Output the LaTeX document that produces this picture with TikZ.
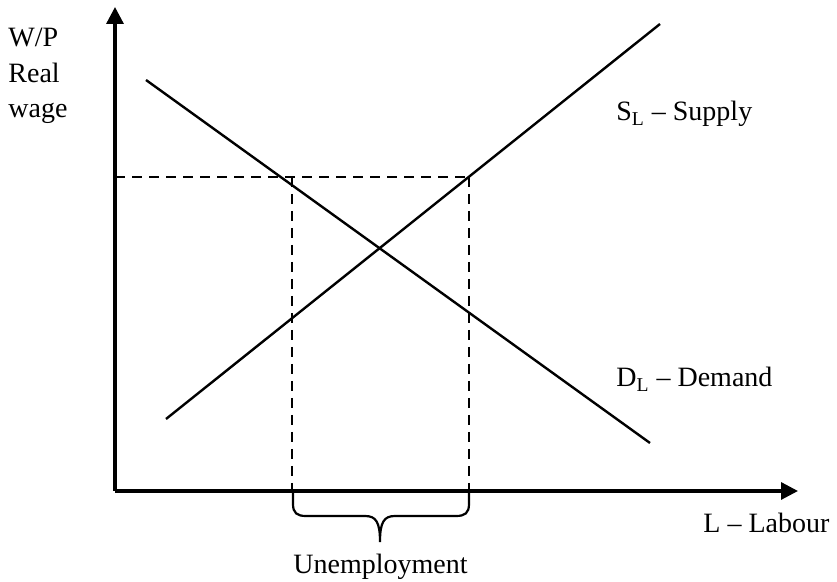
\documentclass[tikz,border=0pt]{standalone}
\usepackage{fontspec}
\setmainfont{Liberation Serif}
\usetikzlibrary{arrows.meta}
\begin{document}
\begin{tikzpicture}[x=0.5pt,y=-0.5pt,
  axis/.style={line width=1.6pt,-{Triangle[length=8.5pt,width=8.5pt]}},
  curve/.style={line width=1.2pt},
  guide/.style={line width=1.1pt,dash pattern=on 5pt off 3.5pt},
  lbl/.style={font=\fontsize{14}{16}\selectfont,inner sep=0pt,anchor=base west}]
\useasboundingbox (0,0) rectangle (837,582);
% coordinates
\coordinate (O) at (115,491);
\coordinate (ytip) at (115,7);
\coordinate (xtip) at (798,491);
\coordinate (D1) at (146,80);
\coordinate (D2) at (650,443);
\coordinate (S1) at (166,419);
\coordinate (S2) at (660,24);
\coordinate (A) at (115,177);
\coordinate (B) at (292,177);
\coordinate (C) at (469,177);
\coordinate (B0) at (292,491);
\coordinate (C0) at (469,491);
% axes
\draw[axis] (O) -- (ytip);
\draw[axis] (O) -- (xtip);
% curves
\draw[curve] (D1) -- (D2);
\draw[curve] (S1) -- (S2);
% dashed guides
\draw[guide] (A) -- (C);
\draw[guide] (B) -- (B0);
\draw[guide] (C) -- (C0);
% brace
\draw[line width=1.1pt] (293,492) -- (293,504) .. controls (293,513) and (297,516) .. (306,516)
  -- (365,516) .. controls (376,516) and (380,522) .. (380,542)
  .. controls (380,522) and (384,516) .. (395,516) -- (456,516)
  .. controls (465,516) and (469,513) .. (469,504) -- (469,492);
% labels
\node[lbl] (wp) at (8,47) {W/P};
\node[lbl] (real) at (8,83) {Real};
\node[lbl] (wage) at (8,118) {wage};
\node[lbl] (sl) at (616,121) {S\textsubscript{L} – Supply};
\node[lbl] (dl) at (616,387) {D\textsubscript{L} – Demand};
\node[lbl] (ll) at (703,533) {L – Labour};
\node[lbl,anchor=base] (un) at (380.5,574) {Unemployment};
\end{tikzpicture}
\end{document}
